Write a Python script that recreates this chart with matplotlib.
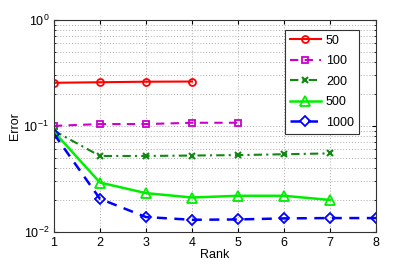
import matplotlib
matplotlib.use("Agg")
import matplotlib.pyplot as plt
import matplotlib.ticker as mticker

plt.rcParams['font.family'] = ['Liberation Sans', 'DejaVu Sans']
plt.rcParams['mathtext.fontset'] = 'custom'
plt.rcParams['mathtext.rm'] = 'Liberation Sans'

rank = [1, 2, 3, 4, 5, 6, 7, 8]
labels = ["50", "100", "200", "500", "1000"]
err_50 = [0.255, 0.258, 0.261, 0.262]
err_100 = [0.100, 0.104, 0.104, 0.107, 0.107]
err_200 = [0.090, 0.052, 0.052, 0.0525, 0.053, 0.054, 0.055]
err_500 = [0.088, 0.0292, 0.0232, 0.0211, 0.0219, 0.0219, 0.0200]
err_1000 = [0.084, 0.0205, 0.0138, 0.0130, 0.0131, 0.0134, 0.0135, 0.0135]
xticks = [1, 2, 3, 4, 5, 6, 7, 8]

fig = plt.figure(figsize=(4.15, 2.65), dpi=100)
ax = fig.add_axes([0.130, 0.125, 0.776, 0.800])

series = [err_50, err_100, err_200, err_500, err_1000]
styles = [
    dict(color='#ff0000', ls='-', marker='o', ms=5, lw=1.5, mfc='none', mew=1.3),
    dict(color='#cc00cc', ls=(0, (4, 3)), marker='s', ms=4.5, lw=1.5, mfc='none', mew=1.3),
    dict(color='#118811', ls=(0, (4, 2, 1, 2)), marker='x', ms=4.5, lw=1.5, mew=1.5),
    dict(color='#00ee00', ls='-', marker='^', ms=6.5, lw=1.8, mfc='none', mew=1.3),
    dict(color='#0000ff', ls=(0, (4, 3)), marker='D', ms=5, lw=1.8, mfc='none', mew=1.3),
]
for ys, lab, st in zip(series, labels, styles):
    ax.plot(rank[:len(ys)], ys, label=lab, **st)

ax.set_yscale('log')
ax.set_ylim(1e-2, 1e0)
ax.set_xlim(1, 8)
ax.set_xticks(xticks)
ax.yaxis.set_major_locator(mticker.LogLocator(base=10, numticks=10))
ax.yaxis.set_minor_locator(mticker.LogLocator(base=10, subs=range(2, 10), numticks=20))
ax.yaxis.set_minor_formatter(mticker.NullFormatter())
ax.grid(True, which='major', ls=(0, (1, 2)), color='#aaaaaa', lw=0.7)
ax.grid(True, which='minor', axis='y', ls=(0, (1, 2)), color='#aaaaaa', lw=0.7)
ax.tick_params(direction='in', which='both', top=True, right=True, labelsize=9, length=3)
ax.tick_params(which='minor', length=1.5)
for s in ax.spines.values():
    s.set_color('#333333')
    s.set_linewidth(0.8)

ax.set_xlabel('Rank', fontsize=9, labelpad=0)
ax.set_ylabel('Error', fontsize=9, labelpad=2)

leg = ax.legend(loc='upper right', bbox_to_anchor=(0.947, 0.953), borderaxespad=0,
                fontsize=9, fancybox=False, framealpha=1, edgecolor='#333333',
                handlelength=2.5, labelspacing=0.68, borderpad=0.4, handletextpad=0.4)
leg.get_frame().set_linewidth(0.8)

fig.savefig('out.png', dpi=100)
